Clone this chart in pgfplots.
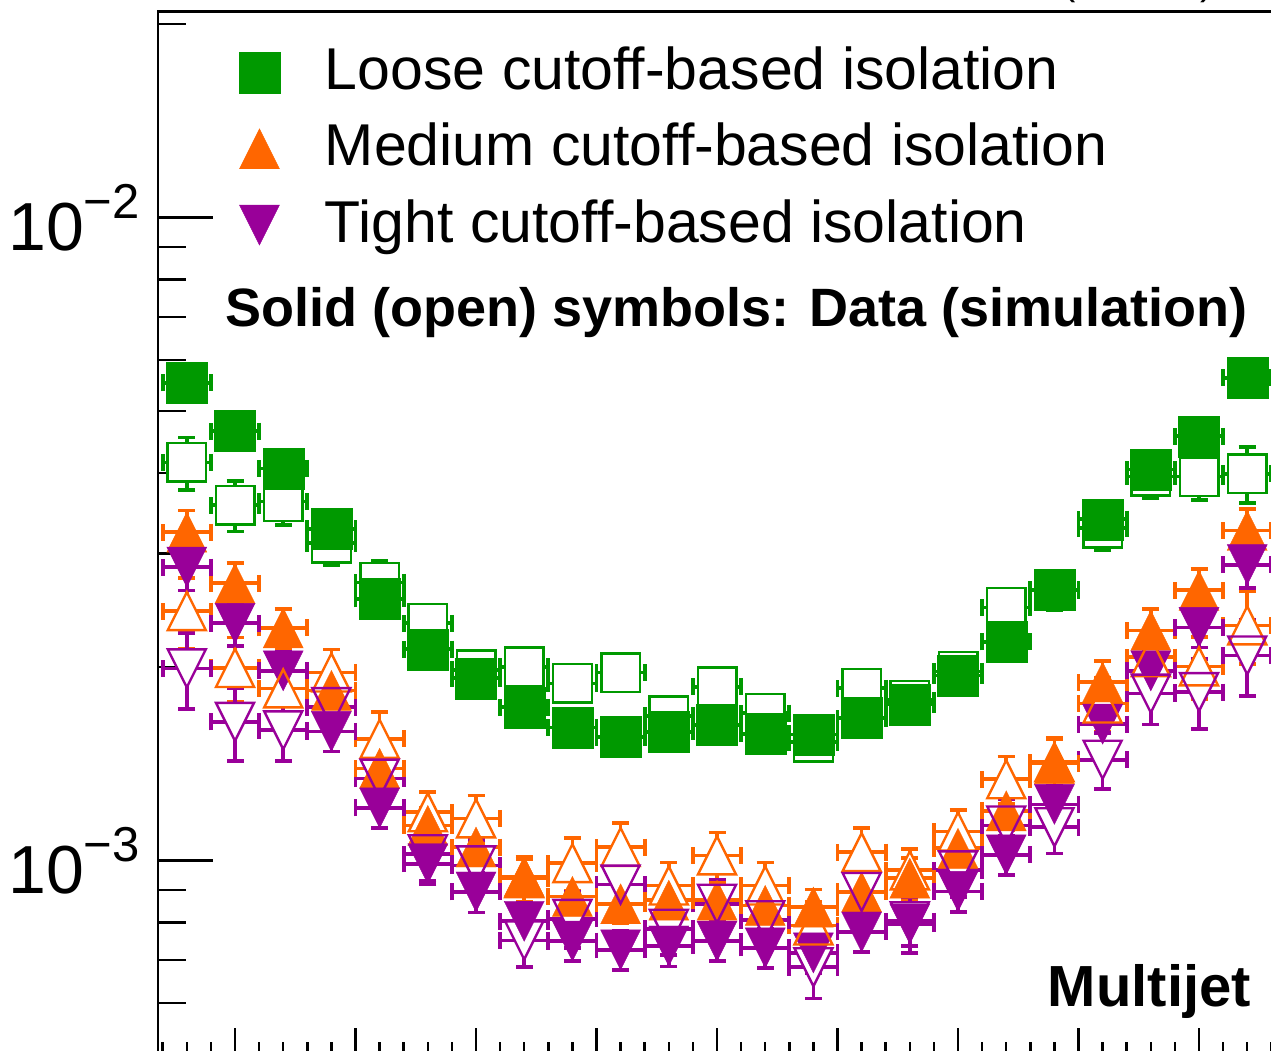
\documentclass[border=0pt]{standalone}
\usepackage{fontspec}
\setmainfont{Liberation Sans}
\usepackage{pgfplots}
\pgfplotsset{compat=1.18}
\usepackage{pgfplotstable}

\definecolor{cgreen}{RGB}{0,153,0}
\definecolor{corange}{RGB}{255,102,0}
\definecolor{cpurple}{RGB}{153,0,153}

% ROOT style triangles (box of 2r x 2r)
\pgfdeclareplotmark{rtriup*}{%
  \pgfpathmoveto{\pgfqpoint{0pt}{\pgfplotmarksize}}%
  \pgfpathlineto{\pgfqpoint{\pgfplotmarksize}{-\pgfplotmarksize}}%
  \pgfpathlineto{\pgfqpoint{-\pgfplotmarksize}{-\pgfplotmarksize}}%
  \pgfpathclose\pgfusepathqfillstroke}
\pgfdeclareplotmark{rtriup}{%
  \pgfpathmoveto{\pgfqpoint{0pt}{\pgfplotmarksize}}%
  \pgfpathlineto{\pgfqpoint{\pgfplotmarksize}{-\pgfplotmarksize}}%
  \pgfpathlineto{\pgfqpoint{-\pgfplotmarksize}{-\pgfplotmarksize}}%
  \pgfpathclose\pgfusepathqstroke}
\pgfdeclareplotmark{rtridn*}{%
  \pgfpathmoveto{\pgfqpoint{0pt}{-\pgfplotmarksize}}%
  \pgfpathlineto{\pgfqpoint{\pgfplotmarksize}{\pgfplotmarksize}}%
  \pgfpathlineto{\pgfqpoint{-\pgfplotmarksize}{\pgfplotmarksize}}%
  \pgfpathclose\pgfusepathqfillstroke}
\pgfdeclareplotmark{rtridn}{%
  \pgfpathmoveto{\pgfqpoint{0pt}{-\pgfplotmarksize}}%
  \pgfpathlineto{\pgfqpoint{\pgfplotmarksize}{\pgfplotmarksize}}%
  \pgfpathlineto{\pgfqpoint{-\pgfplotmarksize}{\pgfplotmarksize}}%
  \pgfpathclose\pgfusepathqstroke}

\newcommand{\ylab}[1]{10\raisebox{32pt}{\fontsize{49}{49}\selectfont −#1}}

\pgfplotsset{
  mkleg/.style={legend image code/.code={\draw[##1] plot coordinates {(0pt,0pt)};}},
  errs/.style={line width=3.7pt,
    error bars/x dir=both, error bars/x fixed=0.1,
    error bars/y dir=both, error bars/y explicit,
    error bars/error bar style={line width=3.7pt, solid},
    error bars/error mark options={rotate=90, mark size=8.5pt, line width=3.7pt, solid}},
  eraser/.style={forget plot, only marks, color=white, mark options={solid, line width=0.1pt}},
}

% data, loose
\pgfplotstableread{
x y ey
-2.2 5.53e-3 0.17e-3
-2.0 4.65e-3 0.14e-3
-1.8 4.07e-3 0.12e-3
-1.6 3.28e-3 0.10e-3
-1.4 2.55e-3 0.08e-3
-1.2 2.13e-3 0.06e-3
-1.0 1.92e-3 0.06e-3
-0.8 1.73e-3 0.05e-3
-0.6 1.61e-3 0.05e-3
-0.4 1.555e-3 0.05e-3
-0.2 1.584e-3 0.05e-3
0.0 1.623e-3 0.05e-3
0.2 1.574e-3 0.05e-3
0.4 1.569e-3 0.05e-3
0.6 1.665e-3 0.05e-3
0.8 1.749e-3 0.05e-3
1.0 1.94e-3 0.06e-3
1.2 2.186e-3 0.07e-3
1.4 2.634e-3 0.08e-3
1.6 3.393e-3 0.10e-3
1.8 4.056e-3 0.12e-3
2.0 4.565e-3 0.14e-3
2.2 5.632e-3 0.17e-3
}\dataL

% data, medium
\pgfplotstableread{
x y ey
-2.2 3.240e-3 0.26e-3
-2.0 2.697e-3 0.20e-3
-1.8 2.299e-3 0.16e-3
-1.6 1.838e-3 0.12e-3
-1.4 1.390e-3 0.09e-3
-1.2 1.133e-3 0.074e-3
-1.0 1.049e-3 0.068e-3
-0.8 0.944e-3 0.061e-3
-0.6 0.879e-3 0.057e-3
-0.4 0.856e-3 0.056e-3
-0.2 0.867e-3 0.056e-3
0.0 0.867e-3 0.056e-3
0.2 0.851e-3 0.055e-3
0.4 0.846e-3 0.055e-3
0.6 0.893e-3 0.058e-3
0.8 0.938e-3 0.070e-3
1.0 1.044e-3 0.068e-3
1.2 1.194e-3 0.078e-3
1.4 1.414e-3 0.13e-3
1.6 1.894e-3 0.15e-3
1.8 2.278e-3 0.18e-3
2.0 2.630e-3 0.21e-3
2.2 3.259e-3 0.26e-3
}\dataM

% data, tight
\pgfplotstableread{
x y ey
-2.2 2.859e-3 0.23e-3
-2.0 2.337e-3 0.18e-3
-1.8 1.972e-3 0.14e-3
-1.6 1.587e-3 0.11e-3
-1.4 1.207e-3 0.085e-3
-1.2 0.988e-3 0.069e-3
-1.0 0.893e-3 0.063e-3
-0.8 0.804e-3 0.056e-3
-0.6 0.749e-3 0.052e-3
-0.4 0.726e-3 0.051e-3
-0.2 0.736e-3 0.052e-3
0.0 0.749e-3 0.052e-3
0.2 0.731e-3 0.051e-3
0.4 0.718e-3 0.050e-3
0.6 0.774e-3 0.054e-3
0.8 0.797e-3 0.080e-3
1.0 0.895e-3 0.063e-3
1.2 1.020e-3 0.071e-3
1.4 1.222e-3 0.086e-3
1.6 1.629e-3 0.114e-3
1.8 1.971e-3 0.14e-3
2.0 2.303e-3 0.16e-3
2.2 2.883e-3 0.23e-3
}\dataT

% simulation, loose
\pgfplotstableread{
x y ey
-2.2 4.159e-3 0.387e-3
-2.0 3.569e-3 0.321e-3
-1.8 3.614e-3 0.289e-3
-1.6 3.113e-3 0.233e-3
-1.4 2.706e-3 0.216e-3
-1.2 2.337e-3 0.140e-3
-1.0 1.978e-3 0.119e-3
-0.8 2.000e-3 0.120e-3
-0.6 1.885e-3 0.113e-3
-0.4 1.959e-3 0.118e-3
-0.2 1.678e-3 0.101e-3
0.0 1.863e-3 0.112e-3
0.2 1.694e-3 0.102e-3
0.4 1.528e-3 0.092e-3
0.6 1.852e-3 0.111e-3
0.8 1.774e-3 0.106e-3
1.0 1.968e-3 0.118e-3
1.2 2.474e-3 0.161e-3
1.4 2.630e-3 0.184e-3
1.6 3.286e-3 0.246e-3
1.8 3.956e-3 0.297e-3
2.0 3.952e-3 0.316e-3
2.2 3.995e-3 0.400e-3
}\mcL

% simulation, medium
\pgfplotstableread{
x y ey
-2.2 2.441e-3 0.305e-3
-2.0 1.992e-3 0.229e-3
-1.8 1.851e-3 0.185e-3
-1.6 1.960e-3 0.167e-3
-1.4 1.546e-3 0.155e-3
-1.2 1.188e-3 0.089e-3
-1.0 1.162e-3 0.099e-3
-0.8 0.938e-3 0.075e-3
-0.6 0.990e-3 0.094e-3
-0.4 1.049e-3 0.094e-3
-0.2 0.914e-3 0.078e-3
0.0 1.018e-3 0.087e-3
0.2 0.914e-3 0.078e-3
0.4 0.792e-3 0.071e-3
0.6 1.030e-3 0.093e-3
0.8 0.965e-3 0.077e-3
1.0 1.109e-3 0.089e-3
1.2 1.337e-3 0.114e-3
1.4 1.421e-3 0.128e-3
1.6 1.754e-3 0.167e-3
1.8 2.071e-3 0.207e-3
2.0 2.003e-3 0.220e-3
2.2 2.320e-3 0.302e-3
}\mcM

% simulation, tight
\pgfplotstableread{
x y ey
-2.2 1.989e-3 0.269e-3
-2.0 1.642e-3 0.213e-3
-1.8 1.593e-3 0.167e-3
-1.6 1.731e-3 0.156e-3
-1.4 1.340e-3 0.134e-3
-1.2 1.022e-3 0.092e-3
-1.0 0.982e-3 0.093e-3
-0.8 0.751e-3 0.068e-3
-0.6 0.811e-3 0.081e-3
-0.4 0.917e-3 0.083e-3
-0.2 0.783e-3 0.070e-3
0.0 0.856e-3 0.077e-3
0.2 0.807e-3 0.073e-3
0.4 0.682e-3 0.072e-3
0.6 0.893e-3 0.080e-3
0.8 0.804e-3 0.068e-3
1.0 0.965e-3 0.087e-3
1.2 1.133e-3 0.113e-3
1.4 1.126e-3 0.101e-3
1.6 1.434e-3 0.143e-3
1.8 1.817e-3 0.191e-3
2.0 1.827e-3 0.228e-3
2.2 2.083e-3 0.281e-3
}\mcT

\begin{document}
\begin{tikzpicture}
\useasboundingbox (0pt,0pt) rectangle (1271pt,1050pt);
\clip (0pt,0pt) rectangle (1271pt,1050pt);
\begin{axis}[
    at={(157.9pt,-3.9pt)}, anchor=south west,
    scale only axis, width=1118.2pt, height=1042.4pt,
    xmin=-2.32, xmax=2.32,
    ymode=log, ymin=5e-4, ymax=0.0209,
    clip=false,
    axis line style={line width=2.5pt},
    tick style={line width=2.5pt, black},
    major tick length=55pt, minor tick length=28pt,
    major x tick style={/pgfplots/major tick length=26pt},
    minor x tick style={/pgfplots/minor tick length=12pt},
    xtick pos=left, ytick pos=left,
    xtick={-2,-1.5,...,2},
    minor xtick={-2.3,-2.2,-2.1,-1.9,-1.8,-1.7,-1.6,-1.4,-1.3,-1.2,-1.1,-0.9,-0.8,-0.7,-0.6,-0.4,-0.3,-0.2,-0.1,0.1,0.2,0.3,0.4,0.6,0.7,0.8,0.9,1.1,1.2,1.3,1.4,1.6,1.7,1.8,1.9,2.1,2.2,2.3},
    xticklabel={},
    ytick={1e-3,1e-2},
    yticklabels={\ylab{3},\ylab{2}},
    minor ytick={6e-4,7e-4,8e-4,9e-4,2e-3,3e-3,4e-3,5e-3,6e-3,7e-3,8e-3,9e-3,2e-2},
    yticklabel style={font=\fontsize{68}{68}\selectfont, inner sep=0pt, xshift=-18pt},
    legend style={draw=none, fill=none, inner sep=0pt, outer sep=0pt,
      at={(0.0725,0.9655)}, anchor=north west,
      font=\fontsize{59}{59}\selectfont, row sep=26.3pt, column sep=45pt,
      nodes={inner sep=0pt, text height=42pt, text depth=8pt}},
    legend cell align=left,
]
% simulation error bars, lowest layer
\addplot[forget plot, only marks, mark=none, color=cgreen, errs]
  table[x=x, y=y, y error=ey] {\mcL};
\addplot[forget plot, only marks, mark=none, color=corange, errs]
  table[x=x, y=y, y error=ey] {\mcM};
\addplot[forget plot, only marks, mark=none, color=cpurple, errs]
  table[x=x, y=y, y error=ey] {\mcT};
% bars do not run inside the open symbols
\addplot[eraser, mark=square*, mark size=18.3pt] table[x=x, y=y] {\mcL};
\addplot[eraser, mark=rtriup*, mark size=18.3pt] table[x=x, y=y] {\mcM};
\addplot[eraser, mark=rtridn*, mark size=18.3pt] table[x=x, y=y] {\mcT};
% data
\addplot[only marks, color=cgreen, mark=square*, mark size=20.5pt,
  mark options={solid, line width=0.4pt}, mkleg, errs]
  table[x=x, y=y, y error=ey] {\dataL};
\addlegendentry{Loose cutoff-based isolation}
\addplot[only marks, color=corange, mark=rtriup*, mark size=20pt,
  mark options={solid, line width=0.4pt}, mkleg, errs]
  table[x=x, y=y, y error=ey] {\dataM};
\addlegendentry{Medium cutoff-based isolation}
\addplot[only marks, color=cpurple, mark=rtridn*, mark size=20pt,
  mark options={solid, line width=0.4pt}, mkleg, errs]
  table[x=x, y=y, y error=ey] {\dataT};
\addlegendentry{Tight cutoff-based isolation}
% simulation, open symbols
\addplot[forget plot, only marks, color=cgreen, mark=square, mark size=19.3pt,
  mark options={solid, line width=2.4pt}]
  table[x=x, y=y] {\mcL};
\addplot[forget plot, only marks, color=corange, mark=rtriup, mark size=19pt,
  mark options={solid, line width=2.4pt}]
  table[x=x, y=y] {\mcM};
\addplot[forget plot, only marks, color=cpurple, mark=rtridn, mark size=19pt,
  mark options={solid, line width=2.4pt}]
  table[x=x, y=y] {\mcT};
\end{axis}
\node[anchor=base west, inner sep=0pt, font=\bfseries\fontsize{54}{54}\selectfont]
  at (225.5pt,723pt) {Solid (open) symbols: Data (simulation)};
\node[anchor=base east, inner sep=0pt, font=\bfseries\fontsize{58}{58}\selectfont]
  at (1251pt,44pt) {Multijet};
\node[anchor=base west, inner sep=0pt, font=\fontsize{40}{40}\selectfont]
  at (1062pt,1055.8pt) {(13 TeV)};
\end{tikzpicture}
\end{document}
